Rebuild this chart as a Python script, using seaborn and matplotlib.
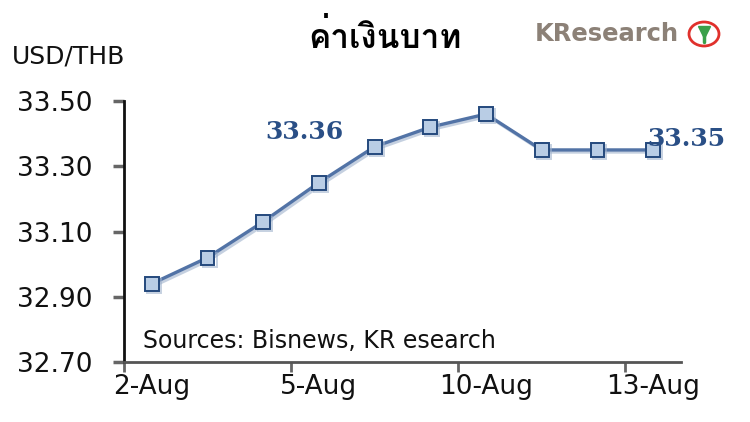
import numpy as np
import pandas as pd
import matplotlib
matplotlib.use("Agg")
import matplotlib.pyplot as plt
import matplotlib.patheffects as pe
from matplotlib import font_manager
from matplotlib.ft2font import FT2Font
from matplotlib.patches import Ellipse
from matplotlib.lines import Line2D
import seaborn as sns

# ---- data ----
dates = ["2-Aug", "3-Aug", "4-Aug", "5-Aug", "6-Aug", "9-Aug", "10-Aug", "11-Aug", "12-Aug", "13-Aug"]
usd_thb = [32.94, 33.02, 33.13, 33.25, 33.36, 33.42, 33.46, 33.35, 33.35, 33.35]
tick_labels = ["2-Aug", "5-Aug", "10-Aug", "13-Aug"]
y_ticks = [32.70, 32.90, 33.10, 33.30, 33.50]
title = "ค่าเงินบาท"
unit_label = "USD/THB"
source_text = "Sources: Bisnews, KR esearch"
label_first = "33.36"
label_last = "33.35"

sns.set_theme(style="white")

# find a font with Thai coverage
thai_font = None
for f in font_manager.fontManager.ttflist:
    try:
        ft = FT2Font(f.fname)
        cmap = ft.get_charmap()
        if ord("ค") in cmap and ord("ิ") in cmap:
            thai_font = f.name
            if "Bold" in f.fname or f.weight in ("bold", 700):
                break
    except Exception:
        pass
plt.rcParams["font.family"] = ["DejaVu Sans"]

df = pd.DataFrame({"idx": np.arange(len(dates)), "rate": usd_thb, "date": dates})

fig = plt.figure(figsize=(7.5, 4.22), dpi=100)
ax = fig.add_axes([124/750, 1-362/422, (681-124)/750, (362-101)/422])

sns.lineplot(data=df, x="idx", y="rate", ax=ax, color="#5273a6", linewidth=2.4,
             marker="s", markersize=10, markerfacecolor="#b9cde5",
             markeredgecolor="#24497d", markeredgewidth=1.4,
             path_effects=[pe.SimpleLineShadow(offset=(1.5, -1.5), shadow_color="#9fb2cc", alpha=0.6),
                           pe.Normal()])

ax.set_xlim(-0.5, len(dates) - 0.5)
ax.set_ylim(y_ticks[0], y_ticks[-1])
ax.set_yticks(y_ticks)
ax.set_yticklabels([f"{v:.2f}" for v in y_ticks], fontsize=19, color="#111111")
label_pos = [dates.index(t) for t in tick_labels]
ax.set_xticks(label_pos)
ax.set_xticklabels(tick_labels, fontsize=19, color="#111111")
ax.set_xticks([p - 0.5 for p in label_pos], minor=True)
ax.tick_params(axis="x", which="major", length=0, pad=9)
ax.tick_params(axis="x", which="minor", length=7, width=2, color="#666666", direction="out", bottom=True)
ax.tick_params(axis="y", which="major", length=8, width=2.5, color="#666666", direction="out", left=True, pad=15)
ax.set_xlabel("")
ax.set_ylabel("")
for s in ["top", "right"]:
    ax.spines[s].set_visible(False)
ax.spines["left"].set_color("#111111")
ax.spines["left"].set_linewidth(2)
ax.spines["bottom"].set_color("#555555")
ax.spines["bottom"].set_linewidth(2)

# data labels
ax.text(dates.index("5-Aug") - 0.97, 33.405, label_first, fontsize=18, fontweight="bold",
        family="DejaVu Serif", color="#2a4f86", va="center", ha="left")
ax.text(len(dates) - 1 - 0.11, 33.385, label_last, fontsize=18, fontweight="bold",
        family="DejaVu Serif", color="#2a4f86", va="center", ha="left", clip_on=False)

ax.text(0.035, 0.08, source_text, transform=ax.transAxes, fontsize=17, color="#111111",
        va="center", ha="left")

# title & unit
fig.text(385/750, 1-36/422, title, fontsize=24, fontweight="bold", color="black",
         ha="center", va="center",
         family=[thai_font, "DejaVu Sans"] if thai_font else ["DejaVu Sans"])
fig.text(12/750, 1-57/422, unit_label, fontsize=18, color="#111111", ha="left", va="center")

# logo
fig.text(535/750, 1-34/422, "KResearch", fontsize=17.5, fontweight="bold", color="#8c8177",
         ha="left", va="center")
fig.add_artist(Ellipse((704/750, 1-34/422), 30/750, 24/422, transform=fig.transFigure,
                       facecolor="white", edgecolor="#e0312c", linewidth=2))
fig.add_artist(Line2D([704/750], [1-32/422], transform=fig.transFigure, marker="v",
                      markersize=8, color="#3aa04a", linestyle="none"))
fig.add_artist(Line2D([704/750, 704/750], [1-33/422, 1-42/422], transform=fig.transFigure,
                      color="#3aa04a", linewidth=2.5))

fig.savefig("out.png", dpi=100, facecolor="white")
